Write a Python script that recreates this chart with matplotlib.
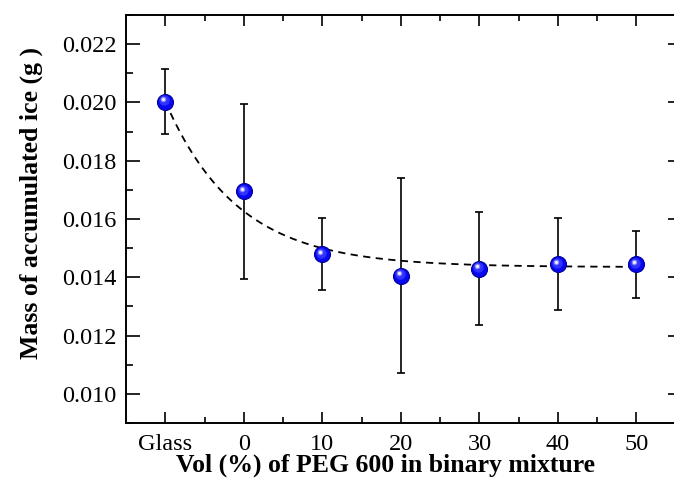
import matplotlib
matplotlib.use("Agg")
import matplotlib.pyplot as plt
import matplotlib.transforms as mtransforms
import numpy as np

plt.rcParams['font.family'] = ['Liberation Serif', 'DejaVu Serif']

# data
categories = ['Glass', '0', '10', '20', '30', '40', '50']
mass = [0.02003, 0.01695, 0.01480, 0.01406, 0.01430, 0.01446, 0.01444]
mass_err = [0.00110, 0.00300, 0.00122, 0.00335, 0.00195, 0.00157, 0.00115]

# exponential decay fit (dashed line): y = y0 + A*exp(-x/t), x = category index
fit_y0 = 0.01435
fit_A = 0.00568
fit_t = 0.92

x = np.arange(len(categories))

W, H = 674, 497
fig = plt.figure(figsize=(W / 100, H / 100), dpi=100)
# right spine lies just outside the picture, as in the original crop
ax = fig.add_axes([126 / W, (H - 423) / H, 556 / W, 408 / H])

xf = np.linspace(x[0], x[-1], 300)
ax.plot(xf, fit_y0 + fit_A * np.exp(-xf / fit_t), ls=(0, (4, 3)), color='black', lw=1.3, zorder=2)

ax.errorbar(x, mass, yerr=mass_err, fmt='none', ecolor='black', elinewidth=1.2,
            capsize=3.2, capthick=1.2, zorder=3)

# blue spheres: base + shading + highlight
ax.plot(x, mass, 'o', ms=11.5, mfc='#0808f0', mec='#00009a', mew=0.8, zorder=4)
sh = mtransforms.offset_copy(ax.transData, fig=fig, x=-0.8, y=0.8, units='points')
ax.plot(x, mass, 'o', ms=7.5, mfc='#3030ff', mec='none', transform=sh, zorder=5)
hl = mtransforms.offset_copy(ax.transData, fig=fig, x=-1.6, y=1.6, units='points')
ax.plot(x, mass, 'o', ms=4.0, mfc='#8c8cff', mec='none', transform=hl, zorder=6)
ax.plot(x, mass, 'o', ms=2.2, mfc='#f0f0ff', mec='none', transform=hl, zorder=7)

ax.set_xlim(-0.5, 6.58)
ax.set_ylim(0.009, 0.023)
ax.set_xticks(x)
ax.set_xticklabels(categories)
ax.set_xticks(x[:-1] + 0.5, minor=True)
ax.set_yticks(np.arange(0.010, 0.0225, 0.002))
ax.set_yticks(np.arange(0.009, 0.0231, 0.001), minor=True)
ax.yaxis.set_major_formatter(matplotlib.ticker.FormatStrFormatter('%.3f'))

ax.tick_params(which='both', direction='in', top=True, right=True, labelsize=17.5, width=1.2)
ax.tick_params(which='major', length=10, pad=8)
ax.tick_params(which='minor', length=5)
ax.tick_params(axis='x', which='major', length=8)
ax.tick_params(axis='x', which='minor', length=4)
ax.tick_params(axis='y', which='major', pad=7)
for s in ax.spines.values():
    s.set_linewidth(1.4)

fig.text(385 / W, (H - 465) / H, 'Vol (%) of PEG 600 in binary mixture', fontsize=18.5,
         fontweight='bold', ha='center', va='center')
fig.text(31 / W, (H - 203) / H, 'Mass of accumulated ice (g )', fontsize=18.5,
         fontweight='bold', ha='center', va='center', rotation=90)

fig.savefig('out.png', dpi=100)
